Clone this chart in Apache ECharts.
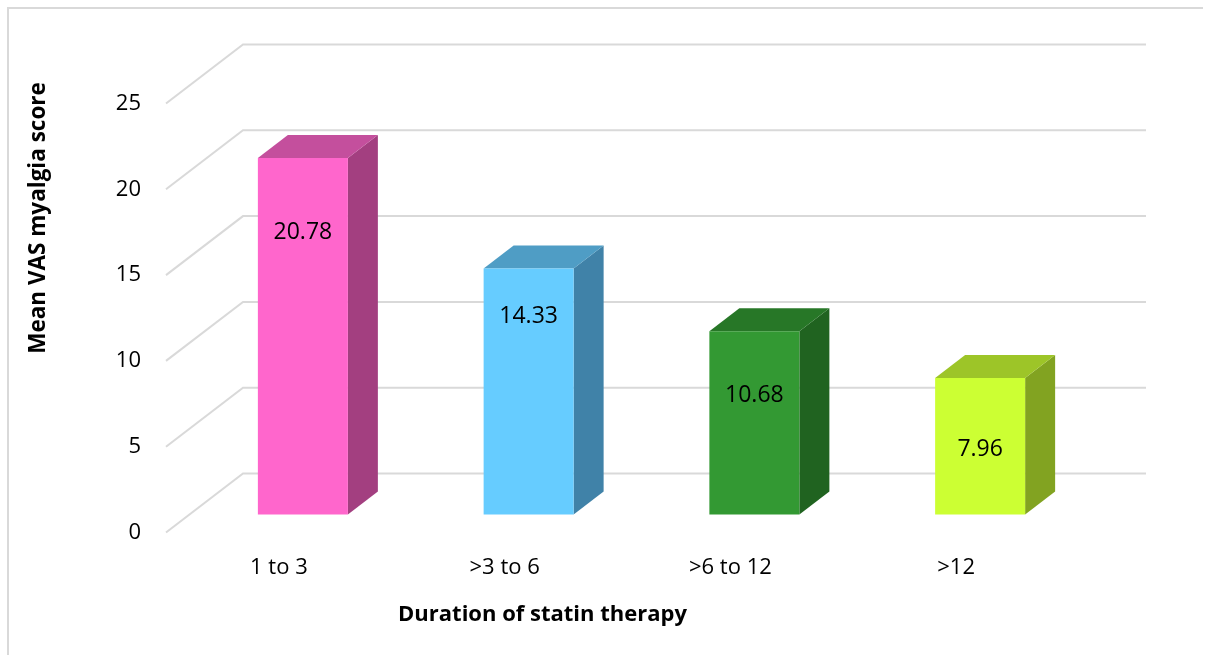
<!DOCTYPE html>
<html>
<head>
<meta charset="utf-8">
<style>html,body{margin:0;padding:0;background:#fff}#c{width:1206px;height:655px}</style>
<script src="https://cdn.jsdelivr.net/npm/echarts@6/dist/echarts.min.js"></script>
</head>
<body>
<div id="c"></div>
<script>
const categories = ['1 to 3', '>3 to 6', '>6 to 12', '>12'];
const meanScores = [20.78, 14.33, 10.68, 7.96];
const valueLabels = ['20.78', '14.33', '10.68', '7.96'];
const gridTicks = [0, 5, 10, 15, 20, 25];
const faceColors = ['#FF66CC', '#66CCFF', '#339933', '#CCFF33'];
const topColors = ['#C44F9D', '#4F9DC5', '#277727', '#9DC528'];
const sideColors = ['#A33F80', '#4082A8', '#206320', '#82A321'];

// layout of the faked 3D view (pixels)
const FONT = '"Open Sans"';
const WALL_DX = 77, WALL_DY = -59;
const BAR_DX = 24, BAR_DY = -18;
const BAR_W = 90, DEPTH_X = 30, DEPTH_Y = -23;
const LABEL_DROP = [75, 48, 64, 72];
const GRID_COLOR = '#D9D9D9';

const chart = echarts.init(document.getElementById('c'), null, {renderer: 'canvas'});

function renderWall(params, api) {
  const cs = params.coordSys;
  const p = api.coord([0, api.value(0)]);
  const left = cs.x, right = cs.x + cs.width, y = p[1];
  return {
    type: 'polyline',
    silent: true,
    shape: {points: [[left, y], [left + WALL_DX, y + WALL_DY], [right + WALL_DX, y + WALL_DY]]},
    style: {stroke: GRID_COLOR, lineWidth: 2, fill: null}
  };
}

function renderBar(params, api) {
  const i = params.dataIndex;
  const top = api.coord([api.value(0), api.value(1)]);
  const base = api.coord([api.value(0), 0]);
  const x0 = top[0] + BAR_DX - BAR_W / 2, x1 = x0 + BAR_W;
  const yT = top[1] + BAR_DY, yB = base[1] + BAR_DY;
  return {
    type: 'group',
    children: [
      {type: 'polygon', shape: {points: [[x1, yT], [x1 + DEPTH_X, yT + DEPTH_Y], [x1 + DEPTH_X, yB + DEPTH_Y], [x1, yB]]},
       style: {fill: sideColors[i]}},
      {type: 'polygon', shape: {points: [[x0, yT], [x0 + DEPTH_X, yT + DEPTH_Y], [x1 + DEPTH_X, yT + DEPTH_Y], [x1, yT]]},
       style: {fill: topColors[i]}},
      {type: 'rect', shape: {x: x0, y: yT, width: BAR_W, height: yB - yT}, style: {fill: faceColors[i]}},
      {type: 'text', x: (x0 + x1) / 2, y: yT + LABEL_DROP[i],
       style: {text: valueLabels[i], align: 'center', verticalAlign: 'middle', fill: '#000', font: '23px ' + FONT}}
    ]
  };
}

chart.setOption({
  animation: false,
  backgroundColor: '#fff',
  grid: {left: 166, top: 103.5, width: 903, height: 429},
  graphic: [
    {type: 'polyline', silent: true, shape: {points: [[8, 655], [8, 8], [1203, 8]]}, style: {stroke: GRID_COLOR, lineWidth: 2, fill: null}}
  ],
  xAxis: {
    type: 'category',
    data: categories,
    axisLine: {show: false},
    axisTick: {show: false},
    axisLabel: {margin: 24, fontFamily: FONT, fontSize: 22, color: '#000'},
    name: 'Duration of statin therapy',
    nameLocation: 'middle',
    nameGap: 71,
    nameTextStyle: {fontFamily: FONT, fontSize: 22, fontWeight: 'bold', color: '#000', padding: [0, 150, 0, 0]}
  },
  yAxis: {
    type: 'value',
    min: 0,
    max: 25,
    interval: 5,
    splitLine: {show: false},
    axisLine: {show: false},
    axisTick: {show: false},
    axisLabel: {margin: 25, fontFamily: FONT, fontSize: 22, color: '#000', padding: [3, 0, 0, 0]},
    name: 'Mean VAS myalgia score',
    nameLocation: 'middle',
    nameGap: 116,
    nameTextStyle: {fontFamily: FONT, fontSize: 22.5, fontWeight: 'bold', color: '#000', padding: [0, 0, 0, 200]}
  },
  series: [
    {type: 'custom', coordinateSystem: 'cartesian2d', renderItem: renderWall, clip: false, z: 1,
     encode: {x: 1, y: 0}, data: gridTicks.map(v => [v, 0])},
    {type: 'custom', coordinateSystem: 'cartesian2d', renderItem: renderBar, clip: false, z: 2,
     encode: {x: 0, y: 1}, data: meanScores.map((v, i) => [i, v])}
  ]
});
</script>
</body>
</html>
